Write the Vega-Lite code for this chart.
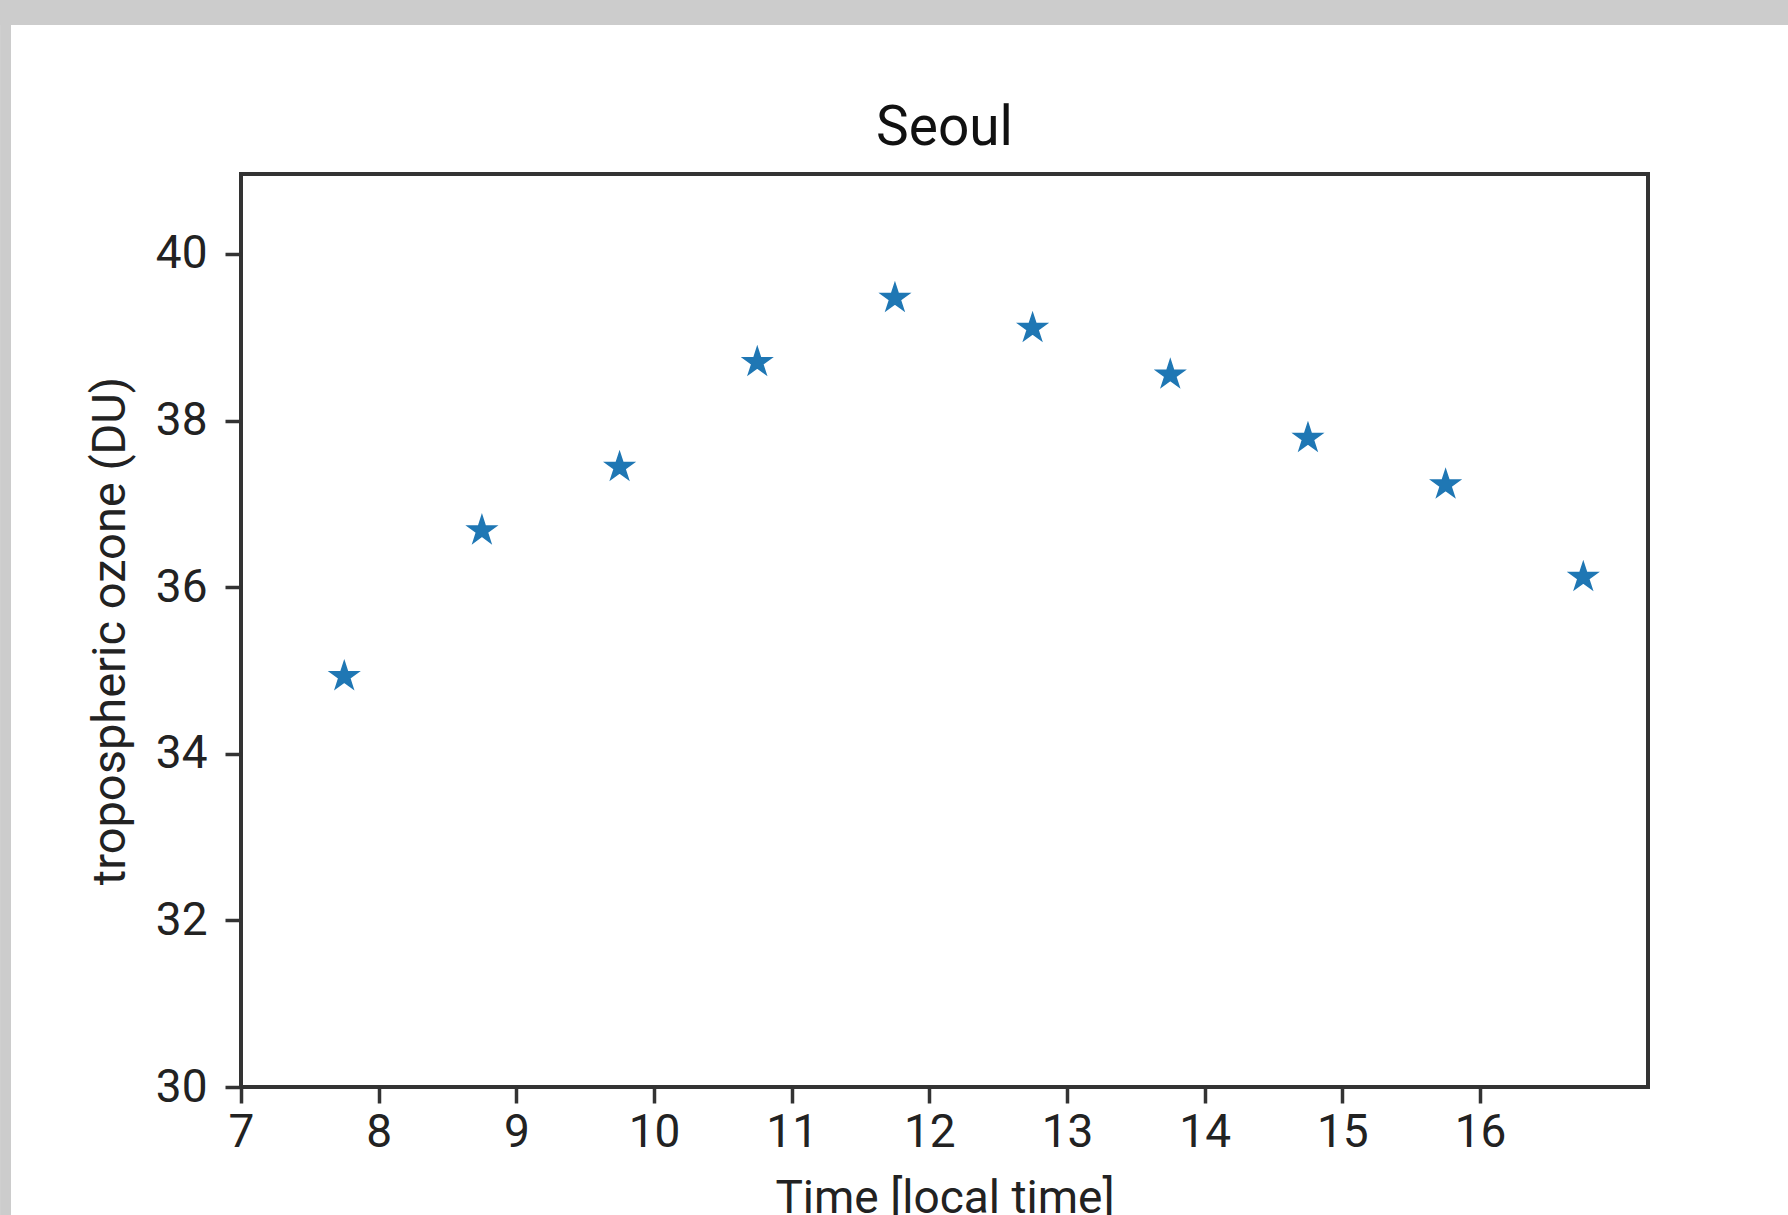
{
  "$schema": "https://vega.github.io/schema/vega-lite/v6.json",
  "width": 1407,
  "height": 913,
  "autosize": {"type": "none"},
  "padding": {"left": 241, "top": 174, "right": 140, "bottom": 128},
  "background": "white",
  "title": {
    "text": "Seoul",
    "font": "Roboto",
    "fontSize": 55,
    "fontWeight": "normal",
    "color": "#111111",
    "baseline": "alphabetic",
    "offset": 0,
    "dy": 200
  },
  "data": {
    "values": [
      {"time": 7.75, "ozone": 34.93},
      {"time": 8.75, "ozone": 36.68},
      {"time": 9.75, "ozone": 37.44},
      {"time": 10.75, "ozone": 38.70},
      {"time": 11.75, "ozone": 39.47},
      {"time": 12.75, "ozone": 39.11},
      {"time": 13.75, "ozone": 38.55},
      {"time": 14.75, "ozone": 37.79},
      {"time": 15.75, "ozone": 37.23},
      {"time": 16.75, "ozone": 36.12}
    ]
  },
  "layer": [
    {
      "data": {"values": [{}]},
      "mark": {"type": "rect", "color": "#cccccc", "clip": false},
      "encoding": {
        "x": {"datum": 5.25, "type": "quantitative", "scale": {"domain": [7, 17.22], "nice": false, "zero": false}},
        "x2": {"datum": 18.3},
        "y": {"datum": 43.049, "type": "quantitative", "scale": {"domain": [30, 40.96], "nice": false, "zero": false}},
        "y2": {"datum": 42.749}
      }
    },
    {
      "data": {"values": [{}]},
      "mark": {"type": "rect", "color": "#cccccc", "clip": false},
      "encoding": {
        "x": {"datum": 5.25, "type": "quantitative"},
        "x2": {"datum": 5.3293},
        "y": {"datum": 43.049, "type": "quantitative"},
        "y2": {"datum": 28.4}
      }
    },
    {
      "mark": {
        "type": "point",
        "shape": "M0,-1L0.2245,-0.309L0.9511,-0.309L0.3633,0.118L0.5878,0.809L0,0.382L-0.5878,0.809L-0.3633,0.118L-0.9511,-0.309L-0.2245,-0.309Z",
        "filled": true,
        "size": 900,
        "color": "#1f77b4",
        "stroke": "#1f77b4",
        "strokeWidth": 1.5,
        "opacity": 1
      },
      "encoding": {
        "x": {
          "field": "time",
          "type": "quantitative",
          "scale": {"domain": [7, 17.22], "nice": false, "zero": false},
          "axis": {
            "title": "Time [local time]",
            "values": [7, 8, 9, 10, 11, 12, 13, 14, 15, 16],
            "format": "d",
            "labelPadding": 7,
            "titlePadding": 21
          }
        },
        "y": {
          "field": "ozone",
          "type": "quantitative",
          "scale": {"domain": [30, 40.96], "nice": false, "zero": false},
          "axis": {
            "title": "tropospheric ozone (DU)",
            "titleFontSize": 47,
            "values": [30, 32, 34, 36, 38, 40],
            "format": "d",
            "labelPadding": 18,
            "titlePadding": 21
          }
        }
      }
    }
  ],
  "config": {
    "view": {"stroke": "#333333", "strokeWidth": 4, "fill": "white"},
    "axis": {
      "domain": false,
      "grid": false,
      "ticks": true,
      "tickSize": 16,
      "tickWidth": 3.5,
      "tickColor": "#333333",
      "labelFont": "Roboto",
      "labelFontSize": 46,
      "labelColor": "#222222",
      "labelFlush": false,
      "labelOverlap": false,
      "titleFont": "Roboto",
      "titleFontSize": 46,
      "titleFontWeight": "normal",
      "titleColor": "#222222"
    }
  }
}
